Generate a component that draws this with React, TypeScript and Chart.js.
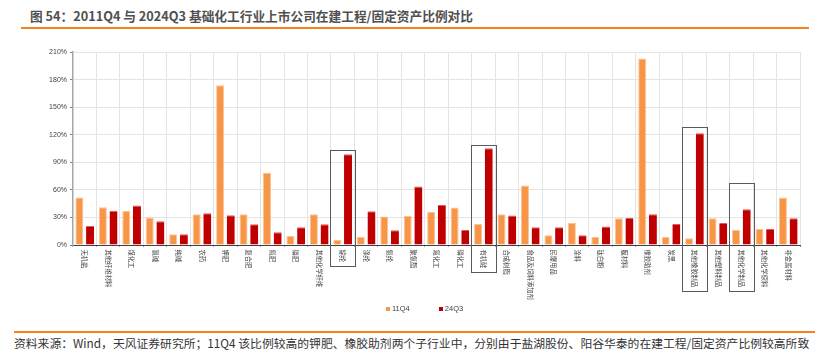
import React, { useEffect, useRef } from "react";
import { Chart, registerables } from "chart.js";

Chart.register(...registerables);

const categories = [
  "无机盐", "其他纤维材料", "煤化工", "氯碱", "纯碱", "农药", "钾肥", "复合肥", "氮肥", "磷肥",
  "其他化学纤维", "锦纶", "涤纶", "氨纶", "聚氨酯", "氟化工", "磷化工", "有机硅", "合成树脂",
  "食品及饲料添加剂", "民爆用品", "涂料", "钛白粉", "膜材料", "橡胶助剂", "炭黑", "其他橡胶制品",
  "其他塑料制品", "其他化学制品", "其他化学原料", "非金属材料",
];

const series11Q4 = [
  51.6, 41, 37, 29.8, 11.6, 33.4, 173.7, 33.4, 78.5, 9.8,
  33.4, 5.8, 8.7, 30.9, 31.6, 36, 40.7, 22.9, 33.4, 64.7,
  10.5, 24, 8.7, 29, 202.8, 8.7, 7.3, 29, 16.4, 17.4, 51.6,
];

const series24Q3 = [
  20.7, 37.4, 42.9, 25.8, 11.6, 34.5, 32.3, 22.5, 13.8, 19.3,
  22.5, 98.8, 36.7, 16, 63.6, 43.6, 16.4, 105.4, 32, 19.3,
  19.3, 10.5, 20, 29.4, 33.4, 22.9, 121.7, 24, 38.9, 17.4, 29,
];

const seriesNames = ["11Q4", "24Q3"];
const yTicks = [0, 30, 60, 90, 120, 150, 180, 210];

// highlighted categories (annotation boxes) and their top value (%)
const boxedCategories = [11, 17, 26, 28];
const boxTops = [103, 108.5, 128, 67];

const TITLE = "图 54：2011Q4 与 2024Q3 基础化工行业上市公司在建工程/固定资产比例对比";
const NOTE = "资料来源：Wind，天风证券研究所；11Q4 该比例较高的钾肥、橡胶助剂两个子行业中，分别由于盐湖股份、阳谷华泰的在建工程/固定资产比例较高所致";

const ORANGE = "#F79646";
const RED = "#C00000";
const CJK = '"Noto Sans CJK SC", "Liberation Sans", sans-serif';

const labelPlugin = {
  id: "verticalLabels",
  afterDraw(chart: any) {
    const { ctx, chartArea, scales } = chart;
    const x = scales.x;
    const y = scales.y;
    const fontSize = 6.3;
    const startOff = 4.5;
    ctx.save();
    ctx.font = `${fontSize}px ${CJK}`;
    ctx.fillStyle = "#404040";
    categories.forEach((c, i) => {
      const px = x.getPixelForValue(i);
      ctx.save();
      ctx.translate(px, chartArea.bottom + startOff);
      ctx.rotate(Math.PI / 2);
      ctx.textAlign = "left";
      ctx.textBaseline = "middle";
      ctx.fillText(c, 0, 0);
      ctx.restore();
    });
    const half = (x.getPixelForValue(1) - x.getPixelForValue(0)) / 2;
    ctx.strokeStyle = "#5a5a5a";
    ctx.lineWidth = 1;
    boxedCategories.forEach((idx, k) => {
      const cx = x.getPixelForValue(idx);
      const top = y.getPixelForValue(boxTops[k]);
      const w = ctx.measureText(categories[idx]).width;
      const bottom = chartArea.bottom + startOff + w + 4;
      ctx.strokeRect(
        Math.round(cx - half - 1) + 0.5,
        Math.round(top) + 0.5,
        Math.round(2 * half + 2),
        Math.round(bottom - top)
      );
    });
    ctx.restore();
  },
};

export default function App() {
  const canvasRef = useRef<HTMLCanvasElement | null>(null);

  useEffect(() => {
    if (!canvasRef.current) return;
    const chart = new Chart(canvasRef.current, {
      type: "bar",
      data: {
        labels: categories,
        datasets: [
          {
            label: seriesNames[0],
            data: series11Q4,
            backgroundColor: ORANGE,
            borderColor: "#FBC296",
            borderWidth: { top: 1, left: 1, right: 1, bottom: 0 },
            categoryPercentage: 0.91,
            barPercentage: 0.75,
          },
          {
            label: seriesNames[1],
            data: series24Q3,
            backgroundColor: RED,
            borderColor: "#DD5A5A",
            borderWidth: { top: 1, left: 0, right: 0, bottom: 0 },
            categoryPercentage: 0.91,
            barPercentage: 0.75,
          },
        ],
      },
      options: {
        responsive: false,
        animation: false,
        devicePixelRatio: 1,
        layout: { padding: { left: 0, right: 29, top: 12, bottom: 5 } },
        plugins: {
          legend: { display: false },
          tooltip: { enabled: false },
        },
        scales: {
          x: {
            grid: {
              color: "#E4E4E4",
              lineWidth: 1,
              offset: true,
              tickLength: 2,
              tickColor: "#A0A0A0",
            },
            border: { color: "#404040", width: 1 },
            ticks: { display: false },
            afterFit: (scale: any) => {
              scale.height = 60;
            },
          },
          y: {
            min: 0,
            max: 210,
            afterBuildTicks: (scale: any) => {
              scale.ticks = yTicks.map((v) => ({ value: v }));
            },
            grid: {
              color: "#E4E4E4",
              lineWidth: 1,
              tickLength: 3,
              tickColor: "#808080",
            },
            border: { color: "#A6A6A6", width: 1.5 },
            ticks: {
              padding: 3,
              color: "#404040",
              font: { size: 7, family: '"Liberation Sans", Arial, sans-serif' },
              callback: (v: any) => `${v}%`,
            },
            afterFit: (scale: any) => {
              scale.width = 73;
            },
          },
        },
      },
      plugins: [labelPlugin],
    });
    return () => chart.destroy();
  }, []);

  return (
    <div
      style={{
        position: "absolute",
        left: 0,
        top: 0,
        width: 829,
        height: 354,
        background: "#ffffff",
        overflow: "hidden",
        fontFamily: CJK,
      }}
    >
      <div
        style={{
          position: "absolute",
          left: 30,
          top: 7,
          fontSize: 12.7,
          lineHeight: "17px",
          fontWeight: 700,
          color: "#505050",
          whiteSpace: "nowrap",
        }}
      >
        {TITLE}
      </div>
      <div
        style={{
          position: "absolute",
          left: 21,
          top: 27,
          width: 788,
          height: 2,
          background: "#F5821F",
        }}
      />
      <canvas
        ref={canvasRef}
        width={829}
        height={270}
        style={{ position: "absolute", left: 0, top: 40, width: 829, height: 270 }}
      />
      <div
        style={{
          position: "absolute",
          left: 386,
          top: 304,
          display: "flex",
          alignItems: "center",
          fontFamily: '"Liberation Sans", Arial, sans-serif',
          fontSize: 7.5,
          color: "#404040",
          whiteSpace: "nowrap",
        }}
      >
        <span style={{ width: 4, height: 4, background: ORANGE, display: "inline-block", marginRight: 2 }} />
        <span style={{ marginRight: 29 }}>{seriesNames[0]}</span>
        <span style={{ width: 4, height: 4, background: RED, display: "inline-block", marginRight: 2 }} />
        <span>{seriesNames[1]}</span>
      </div>
      <div
        style={{
          position: "absolute",
          left: 14,
          top: 331,
          width: 801,
          height: 1.5,
          background: "#F5821F",
        }}
      />
      <div
        style={{
          position: "absolute",
          left: 14,
          top: 336,
          fontSize: 11.8,
          lineHeight: "14px",
          color: "#333333",
          whiteSpace: "nowrap",
        }}
      >
        {NOTE}
      </div>
    </div>
  );
}
